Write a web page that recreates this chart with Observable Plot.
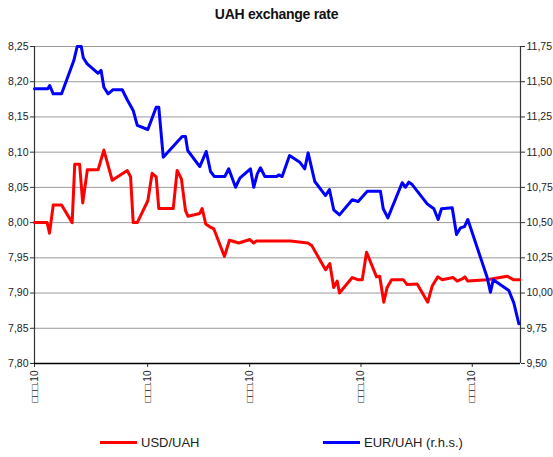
<!DOCTYPE html>
<html>
<head>
<meta charset="utf-8">
<script src="https://cdn.jsdelivr.net/npm/d3@7"></script>
<script src="https://cdn.jsdelivr.net/npm/@observablehq/plot@0.6"></script>
<style>
  html, body { margin: 0; padding: 0; background: #fff; width: 553px; height: 457px; overflow: hidden; }
  body { position: relative; font-family: "Liberation Sans", Arial, sans-serif; color: #222; }
  #title { position: absolute; left: 0; top: 6px; width: 553px; text-align: center; font-weight: bold; font-size: 14px; letter-spacing: -0.3px; color: #111; }
  #chart { position: absolute; left: 0; top: 30px; }
  .leg { position: absolute; top: 435px; font-size: 13px; display: flex; align-items: center; color: #222; }
  .leg span.sw { display: inline-block; width: 37px; height: 3px; margin-right: 4px; }
</style>
</head>
<body>
<div id="title">UAH exchange rate</div>
<div id="chart"></div>
<div class="leg" style="left:100px"><span class="sw" style="background:#ff0000"></span>USD/UAH</div>
<div class="leg" style="left:323px"><span class="sw" style="background:#0000ff"></span>EUR/UAH (r.h.s.)</div>
<script>
// USD/UAH (left axis)
const usdDays = [0, 6.8, 8.1, 10.1, 14.6, 20.3, 21.7, 24.3, 26.0, 28.5, 34.3, 37.4, 41.9, 50.0, 51.8, 53.2, 55.4, 61.1, 63.4, 65.6, 67.0, 74.8, 76.9, 79.2, 81.4, 82.8, 89.1, 90.4, 92.3, 94.5, 96.7, 102.4, 105.1, 110.1, 116.1, 118.2, 119.7, 138.0, 147.3, 149.6, 151.5, 156.9, 159.2, 161.3, 163.2, 164.4, 171.3, 174.3, 176.7, 179.0, 184.4, 186.1, 188.3, 190.1, 192.5, 198.8, 200.9, 206.3, 212.0, 214.4, 217.4, 219.8, 225.7, 227.9, 230.6, 232.0, 233.6, 244.0, 254.8, 258.1, 261.6];
const usdRate = [8.000, 8.000, 7.985, 8.025, 8.025, 8.000, 8.083, 8.083, 8.028, 8.075, 8.075, 8.103, 8.060, 8.074, 8.065, 8.000, 8.000, 8.031, 8.070, 8.065, 8.020, 8.020, 8.074, 8.062, 8.017, 8.009, 8.013, 8.020, 7.998, 7.994, 7.991, 7.952, 7.975, 7.971, 7.976, 7.971, 7.974, 7.974, 7.971, 7.967, 7.958, 7.933, 7.942, 7.908, 7.917, 7.900, 7.922, 7.919, 7.919, 7.958, 7.923, 7.924, 7.887, 7.908, 7.919, 7.919, 7.912, 7.913, 7.887, 7.910, 7.923, 7.919, 7.922, 7.917, 7.920, 7.923, 7.917, 7.919, 7.924, 7.919, 7.919];
// EUR/UAH (right axis)
const eurDays = [0, 7.2, 8.2, 10.1, 14.6, 21.2, 23.0, 25.2, 26.3, 28.4, 34.3, 35.9, 37.4, 39.7, 42.2, 47.3, 50.0, 53.2, 55.4, 61.1, 65.6, 67.0, 69.4, 79.6, 81.4, 82.6, 89.1, 92.6, 94.9, 97.0, 102.6, 104.7, 108.4, 110.7, 116.4, 118.2, 120.1, 121.8, 124.2, 130.5, 131.7, 133.5, 137.5, 143.0, 145.7, 147.5, 151.1, 156.9, 159.0, 161.3, 164.4, 171.3, 174.5, 179.4, 186.5, 188.0, 190.5, 198.2, 200.0, 201.8, 203.6, 211.7, 215.3, 217.6, 219.4, 225.2, 227.5, 229.7, 231.8, 233.6, 244.0, 245.8, 247.3, 255.7, 258.4, 261.1];
const eurRate = [11.45, 11.45, 11.473, 11.414, 11.414, 11.65, 11.75, 11.75, 11.67, 11.627, 11.56, 11.58, 11.461, 11.414, 11.443, 11.443, 11.372, 11.296, 11.19, 11.161, 11.319, 11.319, 10.964, 11.111, 11.111, 11.012, 10.898, 11.005, 10.863, 10.827, 10.827, 10.882, 10.751, 10.815, 10.882, 10.751, 10.846, 10.889, 10.827, 10.827, 10.839, 10.827, 10.976, 10.929, 10.882, 10.995, 10.792, 10.692, 10.735, 10.591, 10.555, 10.662, 10.650, 10.723, 10.723, 10.598, 10.534, 10.783, 10.751, 10.787, 10.770, 10.633, 10.598, 10.522, 10.598, 10.605, 10.416, 10.463, 10.472, 10.522, 10.112, 10.006, 10.094, 10.018, 9.93, 9.782];

const leftTicks = [7.80, 7.85, 7.90, 7.95, 8.00, 8.05, 8.10, 8.15, 8.20, 8.25];
const rightTicks = [9.50, 9.75, 10.00, 10.25, 10.50, 10.75, 11.00, 11.25, 11.50, 11.75];
const xTicks = [0, 61, 116, 176, 236];
const xTickLabels = ["□□□.10", "□□□.10", "□□□.10", "□□□.10", "□□□.10"];

const xDomain = [0, 262];
const leftDomain = [7.80, 8.25];
const rightDomain = [9.50, 11.75];
const k = (leftDomain[1] - leftDomain[0]) / (rightDomain[1] - rightDomain[0]);
const toLeft = v => leftDomain[0] + (v - rightDomain[0]) * k;
const fromLeft = v => rightDomain[0] + (v - leftDomain[0]) / k;
const comma = v => v.toFixed(2).replace(".", ",");

const usd = usdDays.map((d, i) => ({d, v: usdRate[i]}));
const eur = eurDays.map((d, i) => ({d, v: eurRate[i]}));

const chart = Plot.plot({
  width: 553,
  height: 395,
  marginTop: 16,
  marginBottom: 62,
  marginLeft: 34,
  marginRight: 33,
  style: {fontFamily: "'Liberation Sans', Arial, sans-serif", color: "#222", background: "#fff", overflow: "visible"},
  x: {domain: xDomain, axis: null},
  y: {domain: leftDomain, axis: null},
  marks: [
    Plot.gridY(leftTicks.slice(1), {stroke: "#9a9a9a", strokeOpacity: 1, strokeWidth: 1}),
    Plot.axisY(leftTicks, {anchor: "left", label: null, tickSize: 4, tickPadding: 2, fontSize: 10.5, tickFormat: comma, stroke: "#333"}),
    Plot.axisY(rightTicks.map(toLeft), {anchor: "right", label: null, tickSize: 4, tickPadding: 2, fontSize: 10.5, tickFormat: d => comma(fromLeft(d)), stroke: "#333"}),
    Plot.axisX(xTicks, {anchor: "bottom", label: null, tickSize: 4, tickPadding: 3, fontSize: 10, tickRotate: -90, tickFormat: d => xTickLabels[xTicks.indexOf(d)], stroke: "#333"}),
    Plot.ruleX([xDomain[0]], {stroke: "#333", strokeWidth: 1.2}),
    Plot.ruleX([xDomain[1]], {stroke: "#333", strokeWidth: 1.2}),
    Plot.ruleY([leftDomain[0]], {stroke: "#000", strokeWidth: 1.5}),
    Plot.line(usd, {x: "d", y: "v", stroke: "#ff0000", strokeWidth: 3, strokeLinejoin: "round"}),
    Plot.line(eur, {x: "d", y: d => toLeft(d.v), stroke: "#0000ff", strokeWidth: 3, strokeLinejoin: "round"})
  ]
});
document.getElementById("chart").appendChild(chart);
</script>
</body>
</html>
